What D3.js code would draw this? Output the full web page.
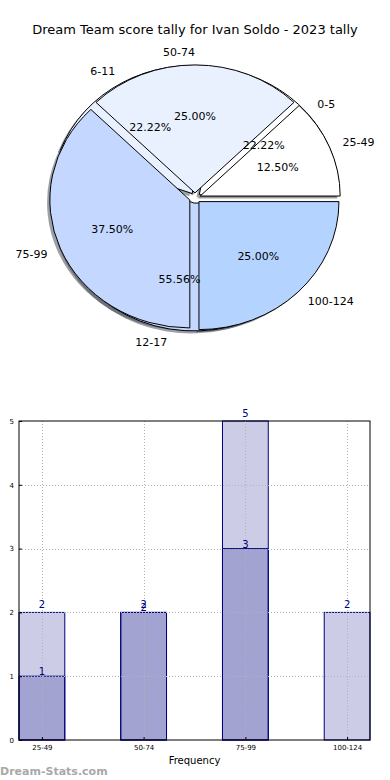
<!DOCTYPE html>
<html>
<head>
<meta charset="utf-8">
<script src="https://cdn.jsdelivr.net/npm/d3@7"></script>
<style>
  body { margin: 0; background: #fff; }
  svg { font-family: "DejaVu Sans", sans-serif; }
</style>
</head>
<body>
<div id="chart"></div>
<script>
// Data
const title = "Dream Team score tally for Ivan Soldo - 2023 tally";
const ageGroups = ["0-5", "6-11", "12-17"];
const ageCounts = [2, 2, 5];
const scoreBands = ["25-49", "50-74", "75-99", "100-124"];
const scoreCounts = [1, 2, 3, 2];
const pieColorsA = ["#ffffff", "#e9f1ff", "#c4d8ff"];
const pieColorsB = ["#ffffff", "#e9f1ff", "#c4d8ff", "#b4d4ff"];
const barTotals = [2, 2, 5, 2];
const barInner = [1, 2, 3, 0];
const yTicks = [0, 1, 2, 3, 4, 5];

const W = 390, H = 780;
const svg = d3.select("#chart").append("svg")
  .attr("width", W).attr("height", H);

// Title
svg.append("text")
  .attr("x", W / 2).attr("y", 34)
  .attr("text-anchor", "middle")
  .style("font-size", "13px")
  .text(title);

// ---------- Pie (two overlaid pies, elliptical, exploded, shadowed) ----------
const cx = 195, cy = 198, rx = 140, ry = 128;
const explode = 0.04;
const pie = d3.pie().sort(null)
  .startAngle(Math.PI / 2)
  .endAngle(Math.PI / 2 - 2 * Math.PI);
const arc = d3.arc().innerRadius(0).outerRadius(1);

const slicesA = pie(ageCounts).map((d, i) => ({...d, label: ageGroups[i], color: pieColorsA[i], total: d3.sum(ageCounts)}));
const slicesB = pie(scoreCounts).map((d, i) => ({...d, label: scoreBands[i], color: pieColorsB[i], total: d3.sum(scoreCounts)}));

const mid = d => (d.startAngle + d.endAngle) / 2;
const ux = d => Math.sin(mid(d));
const uy = d => -Math.cos(mid(d));
const offX = d => explode * rx * ux(d);
const offY = d => explode * ry * uy(d);

const gPie = svg.append("g");

function drawShadows(slices) {
  gPie.append("g").selectAll("path")
    .data(slices)
    .enter()
    .append("path")
      .attr("d", arc)
      .attr("transform", d => `translate(${cx + offX(d) - 0.02 * rx},${cy + offY(d) + 0.02 * ry}) scale(${rx},${ry})`)
      .attr("fill", d => { const c = d3.rgb(d.color); return d3.rgb(c.r * 0.3, c.g * 0.3, c.b * 0.3); })
      .attr("fill-opacity", 0.5)
      .attr("stroke", "none");
}

function drawWedges(slices) {
  gPie.append("g").selectAll("path")
    .data(slices)
    .enter()
    .append("path")
      .attr("d", arc)
      .attr("transform", d => `translate(${cx + offX(d)},${cy + offY(d)}) scale(${rx},${ry})`)
      .attr("fill", d => d.color)
      .attr("stroke", "#000")
      .attr("stroke-width", 1)
      .attr("stroke-linejoin", "round")
      .attr("vector-effect", "non-scaling-stroke");
}

// shadows sit underneath every wedge
drawShadows(slicesA);
drawShadows(slicesB);
drawWedges(slicesA);
drawWedges(slicesB);

function drawLabels(slices) {
  const g = gPie.append("g").style("font-size", "11px");
  // outer category labels
  g.selectAll("text.lab")
    .data(slices)
    .enter()
    .append("text")
      .attr("class", "lab")
      .attr("x", d => cx + offX(d) + 1.1 * rx * ux(d))
      .attr("y", d => cy + offY(d) + 1.1 * ry * uy(d))
      .attr("dy", "0.35em")
      .attr("text-anchor", d => ux(d) > 0 ? "start" : "end")
      .text(d => d.label);
  // percentages
  g.selectAll("text.pct")
    .data(slices)
    .enter()
    .append("text")
      .attr("class", "pct")
      .attr("x", d => cx + offX(d) + 0.6 * rx * ux(d))
      .attr("y", d => cy + offY(d) + 0.6 * ry * uy(d))
      .attr("dy", "0.35em")
      .attr("text-anchor", "middle")
      .text(d => (100 * d.value / d.total).toFixed(2) + "%");
}
drawLabels(slicesA);
drawLabels(slicesB);

// ---------- Bar chart ----------
const plotLeft = 19, plotRight = 370, plotTop = 421, plotBottom = 740;
const x = d3.scaleLinear().domain([-0.225, scoreBands.length - 1 + 0.225]).range([plotLeft, plotRight]);
const y = d3.scaleLinear().domain([0, 5]).range([plotBottom, plotTop]);
const barW = x(0.45) - x(0);

const gBar = svg.append("g");

// bars (semi-transparent navy, overlapping)
function drawBars(values) {
  gBar.append("g").selectAll("rect")
    .data(values.map((v, i) => ({v, i})).filter(d => d.v > 0))
    .enter()
    .append("rect")
      .attr("x", d => x(d.i) - barW / 2)
      .attr("y", d => y(d.v))
      .attr("width", barW)
      .attr("height", d => y(0) - y(d.v))
      .attr("fill", "#000080")
      .attr("fill-opacity", 0.2)
      .attr("stroke", "#000080")
      .attr("stroke-width", 1);
}
drawBars(barTotals);
drawBars(barInner);

// grid
const grid = gBar.append("g")
  .attr("stroke", "#b4b4b4")
  .attr("stroke-width", 1)
  .attr("stroke-dasharray", "1,2");
grid.selectAll("line.h")
  .data(yTicks.slice(1, -1))
  .enter().append("line")
    .attr("x1", plotLeft).attr("x2", plotRight)
    .attr("y1", d => Math.round(y(d)) + 0.5).attr("y2", d => Math.round(y(d)) + 0.5);
grid.selectAll("line.v")
  .data(scoreBands.map((d, i) => i))
  .enter().append("line")
    .attr("x1", d => Math.round(x(d)) + 0.5).attr("x2", d => Math.round(x(d)) + 0.5)
    .attr("y1", plotTop).attr("y2", plotBottom);

// value labels
function drawValues(values, dy) {
  gBar.append("g").selectAll("text")
    .data(values.map((v, i) => ({v, i})).filter(d => d.v > 0))
    .enter()
    .append("text")
      .attr("x", d => x(d.i))
      .attr("y", d => y(d.v) - dy)
      .attr("text-anchor", "middle")
      .attr("fill", "#000080")
      .style("font-size", "10px")
      .text(d => d.v);
}
drawValues(barTotals, 4);
drawValues(barInner, 1);

// frame
gBar.append("rect")
  .attr("x", plotLeft).attr("y", plotTop)
  .attr("width", plotRight - plotLeft).attr("height", plotBottom - plotTop)
  .attr("fill", "none").attr("stroke", "#000").attr("stroke-width", 1);

// axes
const yAxis = d3.axisLeft(y).tickValues(yTicks).tickSize(-3).tickPadding(5).tickFormat(d3.format("d"));
gBar.append("g")
  .attr("transform", `translate(${plotLeft},0)`)
  .call(yAxis)
  .call(g => g.select(".domain").remove())
  .call(g => g.selectAll("text").style("font-size", "7px").attr("fill", "#000").attr("font-family", "DejaVu Sans"));

const xAxis = d3.axisBottom(x)
  .tickValues(scoreBands.map((d, i) => i))
  .tickFormat(i => scoreBands[i])
  .tickSize(-3).tickPadding(5);
gBar.append("g")
  .attr("transform", `translate(0,${plotBottom})`)
  .call(xAxis)
  .call(g => g.select(".domain").remove())
  .call(g => g.selectAll("text").style("font-size", "7px").attr("fill", "#000").attr("font-family", "DejaVu Sans"));

// x label
svg.append("text")
  .attr("x", (plotLeft + plotRight) / 2).attr("y", 764)
  .attr("text-anchor", "middle")
  .style("font-size", "10px")
  .text("Frequency");

// watermark
svg.append("text")
  .attr("x", 0).attr("y", 775)
  .attr("fill", "#a8a8a8")
  .style("font-size", "11px")
  .style("font-weight", "bold")
  .text("Dream-Stats.com");
</script>
</body>
</html>
